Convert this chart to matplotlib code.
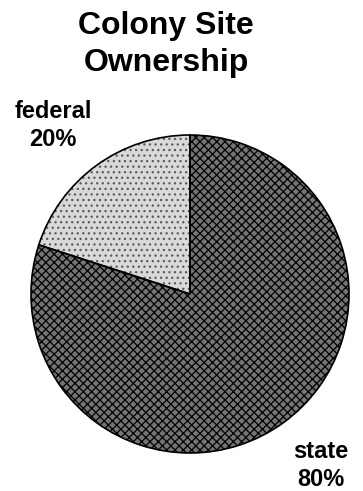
import matplotlib
matplotlib.use("Agg")
import matplotlib.pyplot as plt

plt.rcParams['font.family'] = ['Liberation Sans', 'DejaVu Sans']
plt.rcParams['hatch.linewidth'] = 0.9

# Colony site ownership shares (%)
owners = ['federal', 'state']
shares = [20, 80]
labels = [f"{o}\n{s}%" for o, s in zip(owners, shares)]
# label centres, in pie radii
label_xy = [(-0.86, 1.06), (0.82, -1.08)]

fig = plt.figure(figsize=(3.63, 4.91), dpi=100)
ax = fig.add_axes([31 / 363, 38 / 491, 318 / 363, 318 / 491])

# patterned fills first (hatch follows edge colour), then a plain black outline on top
wedges, _ = ax.pie(shares, startangle=90, counterclock=True)
wedges[0].set(facecolor='#d9d9d9', edgecolor='#5a5a5a', hatch='...', linewidth=0)
wedges[1].set(facecolor='#747474', edgecolor='black', hatch='xxxx', linewidth=0)

outline, _ = ax.pie(shares, startangle=90, counterclock=True)
for w in outline:
    w.set(facecolor='none', edgecolor='black', linewidth=1.2)

for (x, y), lab in zip(label_xy, labels):
    ax.text(x, y, lab, ha='center', va='center', fontsize=17,
            fontweight='bold', linespacing=1.3, clip_on=False)

ax.set_aspect('equal')
ax.set_xlim(-1, 1)
ax.set_ylim(-1, 1)

fig.text(166 / 363, 1 - 11 / 491, "Colony Site\nOwnership", ha='center', va='top',
         fontsize=23, fontweight='bold', linespacing=1.3)

fig.savefig("out.png", dpi=100)
